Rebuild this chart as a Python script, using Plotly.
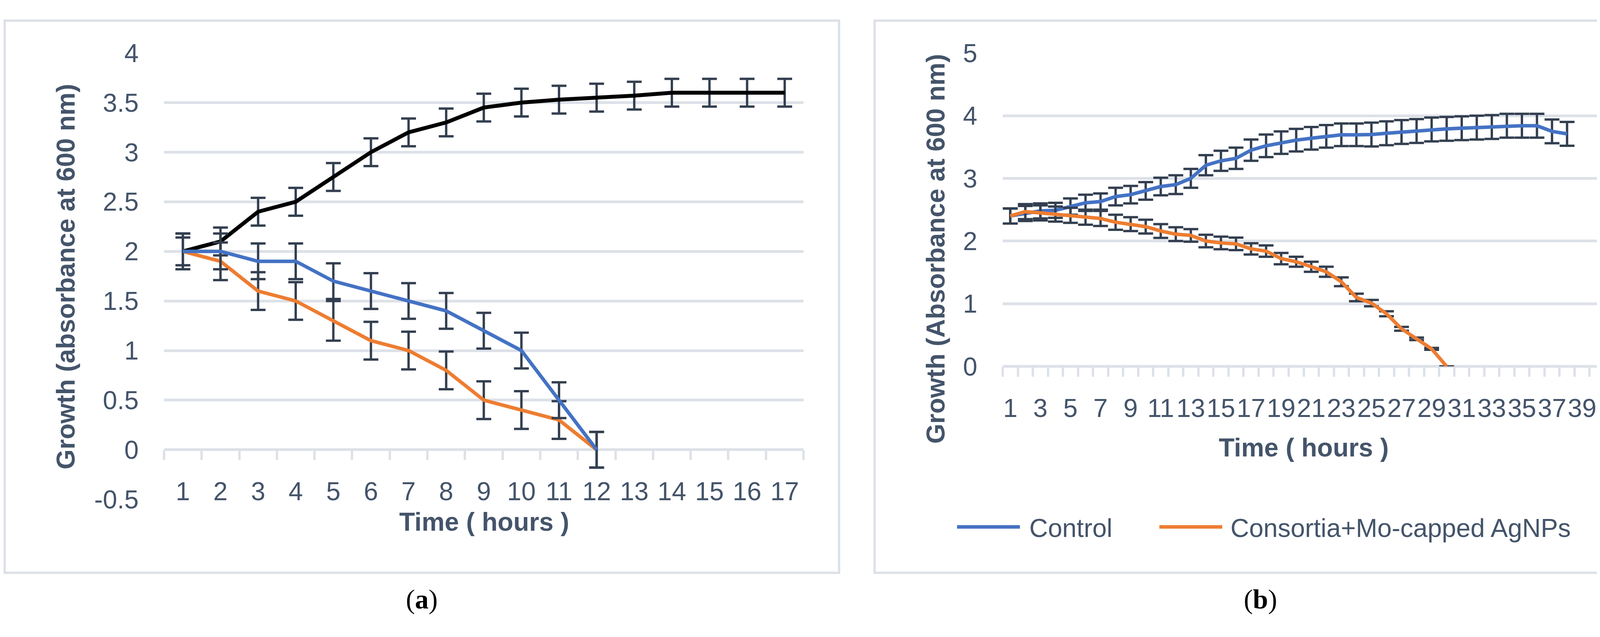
import plotly.graph_objects as go

# ---------------- data: panel (a) ----------------
hours_a = [1, 2, 3, 4, 5, 6, 7, 8, 9, 10, 11, 12, 13, 14, 15, 16, 17]
black_a = [2.0, 2.1, 2.4, 2.5, 2.75, 3.0, 3.2, 3.3, 3.45, 3.5, 3.53, 3.55, 3.57, 3.6, 3.6, 3.6, 3.6]
black_a_err = [0.14, 0.14, 0.14, 0.14, 0.14, 0.14, 0.14, 0.14, 0.14, 0.14, 0.14, 0.14, 0.14, 0.14, 0.14, 0.14, 0.14]
blue_a = [2.0, 2.0, 1.9, 1.9, 1.7, 1.6, 1.5, 1.4, 1.2, 1.0, 0.5, 0.0]
blue_a_err = [0.18, 0.18, 0.18, 0.18, 0.18, 0.18, 0.18, 0.18, 0.18, 0.18, 0.18, 0.18]
orange_a = [2.0, 1.9, 1.6, 1.5, 1.3, 1.1, 1.0, 0.8, 0.5, 0.4, 0.3, 0.0]
orange_a_err = [0.18, 0.19, 0.19, 0.19, 0.2, 0.19, 0.19, 0.19, 0.19, 0.19, 0.19, 0.18]
yticks_a = [-0.5, 0, 0.5, 1, 1.5, 2, 2.5, 3, 3.5, 4]
yticklabels_a = ["-0.5", "0", "0.5", "1", "1.5", "2", "2.5", "3", "3.5", "4"]

# ---------------- data: panel (b) ----------------
hours_b = list(range(1, 41))
xticks_b = [1, 3, 5, 7, 9, 11, 13, 15, 17, 19, 21, 23, 25, 27, 29, 31, 33, 35, 37, 39]
control_b = [2.40, 2.44, 2.48, 2.49, 2.55, 2.61, 2.63, 2.71, 2.74, 2.80,
             2.87, 2.90, 3.00, 3.21, 3.28, 3.32, 3.45, 3.52, 3.57, 3.61,
             3.64, 3.67, 3.695, 3.695, 3.70, 3.72, 3.74, 3.755, 3.78, 3.79,
             3.80, 3.81, 3.82, 3.84, 3.84, 3.84, 3.75, 3.71]
control_b_err = [0.12, 0.12, 0.12, 0.12, 0.13, 0.13, 0.13, 0.14, 0.14, 0.14,
                 0.14, 0.15, 0.15, 0.16, 0.16, 0.17, 0.17, 0.18, 0.18, 0.18,
                 0.18, 0.18, 0.18, 0.18, 0.19, 0.19, 0.19, 0.19, 0.19, 0.19,
                 0.19, 0.19, 0.19, 0.19, 0.19, 0.19, 0.19, 0.19]
agnp_b = [2.40, 2.47, 2.45, 2.43, 2.41, 2.38, 2.36, 2.30, 2.27, 2.23,
          2.16, 2.11, 2.09, 2.00, 1.97, 1.955, 1.875, 1.84, 1.72, 1.67,
          1.59, 1.51, 1.35, 1.10, 1.01, 0.84, 0.60, 0.44, 0.28, 0.0]
agnp_b_err = [0.12, 0.12, 0.12, 0.12, 0.12, 0.12, 0.12, 0.12, 0.11, 0.11,
              0.11, 0.11, 0.10, 0.10, 0.10, 0.10, 0.09, 0.09, 0.09, 0.08,
              0.08, 0.08, 0.07, 0.06, 0.05, 0.04, 0.03, 0.02, 0.015, 0.0]
yticks_b = [0, 1, 2, 3, 4, 5]
series_names_b = ["Control", "Consortia+Mo-capped AgNPs"]

# ---------------- style ----------------
PAGE_W, PAGE_H = 4247, 1630
BODY = 8                       # default page margin around the plot div
W, H = PAGE_W - 2 * BODY, PAGE_H - 2 * BODY
GRID = "#DDE1E8"
TEXT = "#44546A"
ERR = "#333F50"
BLUE = "#4472C4"
ORANGE = "#ED7D31"
BLACK = "#000000"
FONT = "Liberation Sans, Arial, sans-serif"
SERIF = "Liberation Serif, Times New Roman, serif"
FS = 66


def px(x):
    return (x - BODY) / W


def py(y):
    return 1 - (y - BODY) / H


def err(arr):
    return dict(type="data", array=arr, visible=True, color=ERR, thickness=6, width=19)


fig = go.Figure()

# panel (a)
fig.add_trace(go.Scatter(x=hours_a[:len(black_a)], y=black_a, mode="lines",
                         line=dict(color=BLACK, width=10), error_y=err(black_a_err),
                         xaxis="x", yaxis="y", showlegend=False))
fig.add_trace(go.Scatter(x=hours_a[:len(orange_a)], y=orange_a, mode="lines",
                         line=dict(color=ORANGE, width=9), error_y=err(orange_a_err),
                         xaxis="x", yaxis="y", showlegend=False))
fig.add_trace(go.Scatter(x=hours_a[:len(blue_a)], y=blue_a, mode="lines",
                         line=dict(color=BLUE, width=9), error_y=err(blue_a_err),
                         xaxis="x", yaxis="y", showlegend=False))

# panel (b)
fig.add_trace(go.Scatter(x=hours_b[:len(control_b)], y=control_b, mode="lines", name=series_names_b[0],
                         line=dict(color=BLUE, width=9), error_y=err(control_b_err),
                         xaxis="x2", yaxis="y2", showlegend=False))
fig.add_trace(go.Scatter(x=hours_b[:len(agnp_b)], y=agnp_b, mode="lines", name=series_names_b[1],
                         line=dict(color=ORANGE, width=9), error_y=err(agnp_b_err),
                         xaxis="x2", yaxis="y2", showlegend=False))

# axes geometry (page pixels)
ya_dom = [py(1300), py(103)]
yb_dom = [py(943.5), py(103)]
ya_rng = [-0.5, 4]
xa_pos = ya_dom[0] + (0 - ya_rng[0]) / (ya_rng[1] - ya_rng[0]) * (ya_dom[1] - ya_dom[0])

tickfont = dict(family=FONT, size=FS, color=TEXT)

common_x = dict(showgrid=False, zeroline=False, showline=False, ticks="",
                tickfont=tickfont, ticklabelstandoff=62,
                minor=dict(tickmode="linear", tick0=0.5, dtick=1, ticks="outside",
                           ticklen=25, tickwidth=6, tickcolor=GRID, showgrid=False))
common_y = dict(showgrid=True, gridcolor=GRID, gridwidth=6.5, zeroline=True,
                zerolinecolor=GRID, zerolinewidth=6.5, showline=False, ticks="",
                tickfont=tickfont, ticklabelstandoff=64)

fig.update_layout(
    width=W, height=H, autosize=False,
    margin=dict(l=0, r=0, t=0, b=0),
    paper_bgcolor="white", plot_bgcolor="white",
    showlegend=False,
    xaxis=dict(domain=[px(420), px(2057)], range=[0.5, 17.5], anchor="free", position=xa_pos,
               tickmode="array", tickvals=hours_a, ticktext=[str(h) for h in hours_a], **common_x),
    yaxis=dict(domain=ya_dom, range=ya_rng, anchor="x", tickmode="array",
               tickvals=yticks_a, ticktext=yticklabels_a, **common_y),
    xaxis2=dict(domain=[px(2567), px(4108)], range=[0.5, 40.5], anchor="y2",
                tickmode="array", tickvals=xticks_b, ticktext=[str(h) for h in xticks_b], **common_x),
    yaxis2=dict(domain=yb_dom, range=[0, 5], anchor="x2", tickmode="array",
                tickvals=yticks_b, ticktext=[str(v) for v in yticks_b], **common_y),
)

shapes = [
    dict(type="rect", xref="paper", yref="paper", x0=px(12), x1=px(2148), y0=py(1497), y1=py(16),
         line=dict(color=GRID, width=6), fillcolor="rgba(0,0,0,0)", layer="below"),
    dict(type="rect", xref="paper", yref="paper", x0=px(2239), x1=px(4215), y0=py(1497), y1=py(16),
         line=dict(color=GRID, width=6), fillcolor="rgba(0,0,0,0)", layer="below"),
    # legend keys
    dict(type="line", xref="paper", yref="paper", x0=px(2450), x1=px(2611), y0=py(1374), y1=py(1374),
         line=dict(color=BLUE, width=9)),
    dict(type="line", xref="paper", yref="paper", x0=px(2968), x1=px(3129), y0=py(1374), y1=py(1374),
         line=dict(color=ORANGE, width=9)),
]

titlefont = dict(family=FONT, size=FS, color=TEXT)
annotations = [
    dict(text="<b>Growth (absorbance at 600 nm)</b>", x=px(168), y=py(703), textangle=-90),
    dict(text="<b>Growth (Absorbance at 600 nm)</b>", x=px(2395), y=py(628), textangle=-90),
    dict(text="<b>Time ( hours )</b>", x=px(1239), y=py(1360)),
    dict(text="<b>Time ( hours )</b>", x=px(3337), y=py(1161)),
    dict(text=series_names_b[0], x=px(2633), y=py(1377), xanchor="left"),
    dict(text=series_names_b[1], x=px(3148), y=py(1377), xanchor="left"),
]
anns = []
for a in annotations:
    base = dict(xref="paper", yref="paper", showarrow=False, font=titlefont,
                xanchor="center", yanchor="middle")
    base.update(a)
    anns.append(base)
anns.append(dict(text="(<b>a</b>)", x=px(1080), y=py(1568), xref="paper", yref="paper",
                 showarrow=False, font=dict(family=SERIF, size=70, color="black"),
                 xanchor="center", yanchor="middle"))
anns.append(dict(text="(<b>b</b>)", x=px(3227), y=py(1568), xref="paper", yref="paper",
                 showarrow=False, font=dict(family=SERIF, size=70, color="black"),
                 xanchor="center", yanchor="middle"))

fig.update_layout(shapes=shapes, annotations=anns)

fig.write_html("out.html")
